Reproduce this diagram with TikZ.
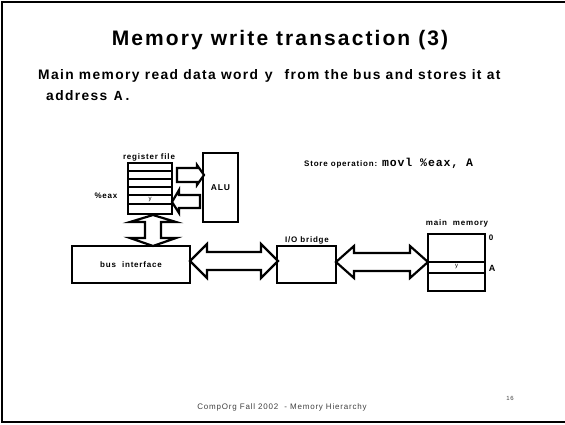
\documentclass[tikz,border=0pt]{standalone}
\usepackage{fontspec}
\setmainfont[LetterSpace=10]{Liberation Sans}
\setmonofont[LetterSpace=8]{Liberation Mono}

\begin{document}
\begin{tikzpicture}[x=1pt,y=-1pt]
\tikzstyle{box}=[draw, line width=1.3pt, inner sep=0pt]
\tikzstyle{lbl}=[font=\bfseries\fontsize{8}{9}\selectfont, inner sep=0pt]
\tikzstyle{blockarrow}=[draw, line width=2.2pt, fill=white, line join=miter]
\useasboundingbox (0,0) rectangle (565,424);
\draw[line width=2pt] (565,2) -- (2,2) -- (2,422) -- (565,422);
    % title and text
    \node[font=\bfseries\fontsize{21}{24}\selectfont] (title) at (280,40) {Memory write transaction (3)};
    \node[anchor=west, font=\bfseries\fontsize{13.8}{15}\selectfont, inner sep=0pt] (line1) at (38,76) {Main memory read data word \texttt{y}\ \ from the bus and stores it at};
    \node[anchor=west, font=\bfseries\fontsize{13.8}{15}\selectfont, inner sep=0pt] (line2) at (46,96) {address \texttt{A.}};
    \node[anchor=west, lbl] (storeop) at (304,163) {Store operation: \texttt{\fontsize{11.5}{12}\selectfont movl \%eax, A}};
    % register file and ALU
    \node[box, minimum width=44pt, minimum height=51pt] (regfile) at (150,188.5) {};
    \foreach \y in {171,179,187,195,204}
        \draw[line width=2pt] (128,\y) -- (172,\y);
    \node[lbl, font=\fontsize{6}{6}\selectfont] (regy) at (150,199.5) {y};
    \node[lbl] (regfilelbl) at (149,157) {register file};
    \node[lbl] (eaxlbl) at (106,196) {\%eax};
    \node[box, minimum width=35pt, minimum height=69pt] (alu) at (220.5,187.5) {};
    \node[lbl, font=\bfseries\fontsize{8.5}{9}\selectfont] (alulbl) at (alu) {ALU};
    % bus interface, bridge, memory
    \node[box, minimum width=118pt, minimum height=37pt, lbl] (bus) at (131,264.5) {bus\ \ interface};
    \node[box, minimum width=59pt, minimum height=37pt] (bridge) at (306.5,264.5) {};
    \node[lbl] (bridgelbl) at (307,240) {I/O bridge};
    \node[box, minimum width=57pt, minimum height=57pt] (mainmem) at (456.5,262.5) {};
    \draw[line width=1.3pt] (428,262) -- (485,262);
    \draw[line width=1.3pt] (428,273) -- (485,273);
    \node[lbl, font=\fontsize{6}{6}\selectfont] (memy) at (456.5,267) {y};
    \node[lbl] (mainmemlbl) at (457,223) {main\ \ memory};
    \node[lbl] (addr0) at (491,238) {0};
    \node[lbl, font=\bfseries\fontsize{9}{9}\selectfont] (addrA) at (492,268) {A};
    % block arrows
    \draw[blockarrow] (177,168) -- (197,168) -- (197,165) -- (204,175) -- (197,185) -- (197,182) -- (177,182) -- cycle;
    \draw[blockarrow] (172,202) -- (179,190) -- (179,195) -- (200,195) -- (200,208) -- (179,208) -- (179,213) -- cycle;
    \draw[blockarrow] (153,215) -- (176,222) -- (161,222) -- (161,238) -- (176,238) -- (153,246) -- (130,238) -- (145,238) -- (145,222) -- (130,222) -- cycle;
    \draw[blockarrow] (190,261) -- (207,244) -- (207,252) -- (261,252) -- (261,244) -- (278,261) -- (261,278) -- (261,270) -- (207,270) -- (207,278) -- cycle;
    \draw[blockarrow] (336,262) -- (354,246) -- (354,253) -- (410,253) -- (410,246) -- (428,262) -- (410,278) -- (410,271) -- (354,271) -- (354,278) -- cycle;
    % footer
    \node[text=black!75, font=\fontsize{8}{9}\selectfont] (footer) at (282,407) {CompOrg Fall 2002\ \ - Memory Hierarchy};
    \node[text=black!75, font=\fontsize{6}{6}\selectfont] (pagenum) at (510,398) {16};
\end{tikzpicture}
\end{document}
